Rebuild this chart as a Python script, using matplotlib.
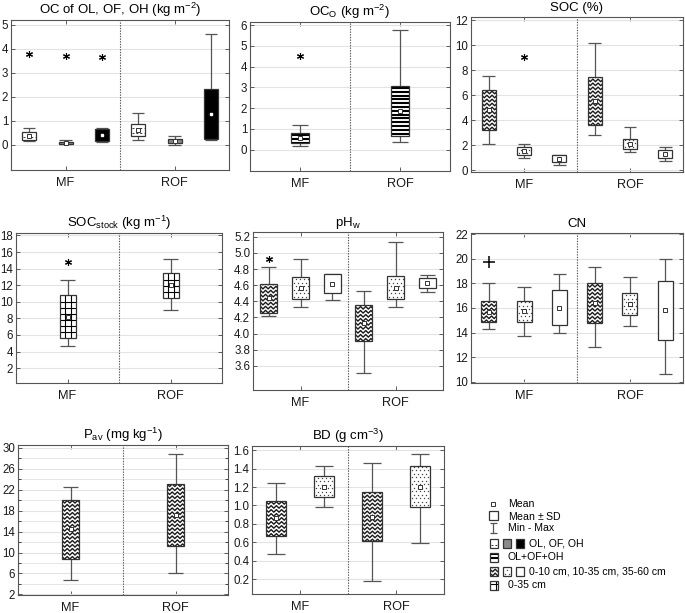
import numpy as np
import matplotlib
matplotlib.use('Agg')
import matplotlib.pyplot as plt
from matplotlib.patches import Rectangle
from matplotlib.collections import LineCollection
from matplotlib.lines import Line2D
from matplotlib.transforms import IdentityTransform

plt.rcParams['font.family'] = ['Liberation Sans', 'DejaVu Sans']
plt.rcParams['mathtext.fontset'] = 'custom'
plt.rcParams['mathtext.rm'] = 'Liberation Sans'
plt.rcParams['mathtext.it'] = 'Liberation Sans:italic'
plt.rcParams['mathtext.bf'] = 'Liberation Sans:bold'

groups = ['MF', 'ROF']

# box order in every panel: MF boxes first, then ROF boxes
# OC of OL, OF, OH
oc_mean = [0.37, 0.08, 0.41, 0.60, 0.16, 1.28]
oc_sd = [0.175, 0.035, 0.265, 0.25, 0.09, 1.05]
oc_min = [0.15, 0.03, 0.12, 0.22, 0.00, 0.22]
oc_max = [0.72, 0.20, 0.72, 1.33, 0.38, 4.62]
oc_out_box = [0, 1, 2]
oc_out_val = [3.78, 3.70, 3.66]

# OC of O horizon (OL+OF+OH)
oco_mean = [0.55, 1.86]
oco_sd = [0.25, 1.20]
oco_min = [0.18, 0.35]
oco_max = [1.17, 5.75]
oco_out_box = [0]
oco_out_val = [4.5]

# SOC (%) for 0-10, 10-35, 35-60 cm
soc_mean = [4.85, 1.54, 0.92, 5.50, 2.12, 1.28]
soc_sd = [1.60, 0.33, 0.28, 1.92, 0.39, 0.32]
soc_min = [2.10, 0.97, 0.45, 2.80, 1.47, 0.77]
soc_max = [7.55, 2.10, 1.25, 10.19, 3.44, 1.87]
soc_out_box = [1]
soc_out_val = [9.07]

# SOC stock 0-35 cm
stock_mean = [8.22, 12.0]
stock_sd = [2.58, 1.5]
stock_min = [4.66, 8.95]
stock_max = [12.6, 15.2]
stock_out_box = [0]
stock_out_val = [14.75]

# pH in water
ph_mean = [4.44, 4.565, 4.62, 4.13, 4.57, 4.625]
ph_sd = [0.18, 0.135, 0.12, 0.22, 0.14, 0.065]
ph_min = [4.22, 4.33, 4.42, 3.51, 4.33, 4.52]
ph_max = [4.82, 4.93, 4.74, 4.53, 5.13, 4.73]
ph_out_box = [0]
ph_out_val = [4.92]

# C/N ratio
cn_mean = [15.71, 15.75, 16.03, 16.43, 16.35, 15.80]
cn_sd = [0.87, 0.85, 1.43, 1.63, 0.90, 2.40]
cn_min = [14.3, 13.75, 13.95, 12.85, 14.55, 10.65]
cn_max = [18.03, 17.7, 18.75, 19.3, 18.5, 20.0]
cn_out_box = [0]
cn_out_val = [19.75]

# available P
pav_mean = [14.4, 17.1]
pav_sd = [5.6, 5.9]
pav_min = [4.8, 6.1]
pav_max = [22.5, 28.7]

# bulk density for 0-10, 10-35 cm
bd_mean = [0.86, 1.205, 0.88, 1.205]
bd_sd = [0.19, 0.115, 0.27, 0.225]
bd_min = [0.47, 0.98, 0.18, 0.59]
bd_max = [1.24, 1.43, 1.46, 1.56]

W, H = 685, 613
fig = plt.figure(figsize=(W / 100, H / 100), dpi=100)

EDGE = '#333333'
WHISK = '#555555'


def add_pattern(ax, patch, kind):
    # fill pattern drawn in screen pixels and clipped to the box
    x0, y0 = patch.get_x(), patch.get_y()
    x1, y1 = x0 + patch.get_width(), y0 + patch.get_height()
    (a, b), (c, d) = ax.transData.transform([(x0, y0), (x1, y1)])
    L, R = min(a, c), max(a, c)
    B, T = min(b, d), max(b, d)
    arts = []
    if kind == 'zig':
        step = 2.6
        xs = np.arange(L - 2 * step, R + 2 * step, step)
        sign = np.where(np.arange(len(xs)) % 2 == 0, 1.3, -1.3)
        segs = []
        y = B - 3
        while y < T + 4:
            segs.append(np.column_stack([xs, y + sign]))
            y += 4.0
        arts.append(LineCollection(segs, colors='#1a1a1a', linewidths=1.0))
    elif kind == 'dot':
        px, py = [], []
        y, row = B + 2, 0
        while y < T:
            xx = np.arange(L + 2 + (row % 2) * 2, R - 0.5, 4.0)
            px += list(xx)
            py += [y] * len(xx)
            y += 3.5
            row += 1
        arts.append(Line2D(px, py, ls='none', marker='s', ms=0.9,
                           mfc='#444444', mec='none'))
    elif kind == 'stripe':
        segs = []
        y = T - 1.9
        while y > B:
            segs.append([(L, y), (R, y)])
            y -= 3.8
        arts.append(LineCollection(segs, colors='black', linewidths=1.5))
    elif kind == 'grid':
        segs = []
        x = L + 5.7
        while x < R - 1:
            segs.append([(x, B), (x, T)])
            x += 5.7
        y = B + 6.0
        while y < T - 1:
            segs.append([(L, y), (R, y)])
            y += 6.0
        arts.append(LineCollection(segs, colors='black', linewidths=0.8))
    elif kind == 'ol':
        segs = []
        y = B + 3
        while y < T - 1:
            segs.append([(L + 1, y), (R - 1, y)])
            y += 5.0
        arts.append(LineCollection(segs, colors='#333333', linewidths=0.7,
                                   linestyles=[(0, (2.0, 2.0))]))
    for art in arts:
        art.set_transform(IdentityTransform())
        art.set_zorder(3.5)
        ax.add_artist(art)
        art.set_clip_path(patch)


def face_of(kind):
    return {'of': '#8a8a8a', 'oh': 'black'}.get(kind, 'white')


def draw_panel(box, title, mean, sd, vmin, vmax, kinds, ylim, yticks,
               box_px, out_box=(), out_val=(), out_marker='*', fmt=None,
               minor=None):
    l, t, r, b = box
    ax = fig.add_axes([l / W, 1 - b / H, (r - l) / W, (b - t) / H])
    ax.set_xlim(0, 2)
    ax.set_ylim(*ylim)
    ax.set_yticks(yticks)
    if fmt:
        ax.set_yticklabels([fmt % v for v in yticks])
    if minor is not None:
        ax.set_yticks(minor, minor=True)
        ax.yaxis.grid(True, which='minor', color='#e6e6e6', lw=0.7)
    ax.set_axisbelow(True)
    ax.yaxis.grid(True, color='#e3e3e3', lw=0.8)
    ax.set_xticks([0.5, 1.5])
    ax.set_xticklabels(groups, fontsize=9)
    ax.tick_params(direction='in', length=3, width=0.6, color='#444444',
                   labelsize=8.3, right=True, top=True, labelcolor='#1a1a1a')
    ax.tick_params(axis='y', which='minor', direction='in', length=2,
                   width=0.5, right=True)
    ax.tick_params(axis='x', pad=5, labelsize=9.2)
    ax.tick_params(axis='y', pad=2)
    for s in ax.spines.values():
        s.set_color('#555555')
        s.set_linewidth(0.8)
    ax.axvline(1, color='#555555', lw=0.8, ls=(0, (1.2, 1.2)), zorder=1)
    ax.set_title(title, fontsize=9.5, pad=4)

    n = len(mean) // 2
    pos = np.array([g + (2 * k + 1) / (2 * n) for g in range(2) for k in range(n)])
    w = box_px / (r - l) * 2
    mean = np.array(mean)
    sd = np.array(sd)
    lo, hi = mean - sd, mean + sd
    ax.vlines(pos, vmin, lo, color=WHISK, lw=0.9, zorder=2)
    ax.vlines(pos, hi, vmax, color=WHISK, lw=0.9, zorder=2)
    ax.hlines(vmin, pos - w * 0.45, pos + w * 0.45, color=WHISK, lw=0.9, zorder=2)
    ax.hlines(vmax, pos - w * 0.45, pos + w * 0.45, color=WHISK, lw=0.9, zorder=2)
    for p, a, h, k in zip(pos, lo, hi, kinds):
        rect = Rectangle((p - w / 2, a), w, h - a, facecolor=face_of(k),
                         edgecolor='none', zorder=3)
        ax.add_patch(rect)
        add_pattern(ax, rect, k)
        ax.add_patch(Rectangle((p - w / 2, a), w, h - a, fill=False,
                               edgecolor=EDGE, lw=0.9, zorder=4))
    for p, m, k in zip(pos, mean, kinds):
        if k == 'oh':
            ax.plot(p, m, 's', ms=2, mfc='white', mec='white', zorder=5)
        else:
            ax.plot(p, m, 's', ms=3.2, mfc='white', mec=EDGE, mew=0.7, zorder=5)
    if len(out_box):
        mk = (6, 2, 0) if out_marker == '*' else '+'
        ax.plot(pos[list(out_box)], out_val, ls='none', marker=mk,
                ms=5 if out_marker == '*' else 8, mew=0.8 if out_marker == '*' else 1.1,
                color='black', zorder=5)
    return ax


depth3 = ['zig', 'dot', 'plain'] * 2

draw_panel((11, 20, 229, 170), r'OC of OL, OF, OH (kg m$^{\mathregular{-2}}$)',
           oc_mean, oc_sd, oc_min, oc_max, ['ol', 'of', 'oh'] * 2,
           (-1.05, 5.2), range(0, 6), 14, oc_out_box, oc_out_val)
draw_panel((250, 22, 450, 171), r'OC$_\mathregular{O}$ (kg m$^{\mathregular{-2}}$)',
           oco_mean, oco_sd, oco_min, oco_max, ['stripe'] * 2,
           (-1.03, 6.15), range(0, 7), 18, oco_out_box, oco_out_val)
draw_panel((471, 17, 683, 172), 'SOC (%)',
           soc_mean, soc_sd, soc_min, soc_max, depth3,
           (-0.15, 12.25), range(0, 13, 2), 14, soc_out_box, soc_out_val)
draw_panel((16, 233, 222, 383),
           r'SOC$_\mathregular{stock}$ (kg m$^{\mathregular{-1}}$)',
           stock_mean, stock_sd, stock_min, stock_max, ['grid'] * 2,
           (0.2, 18.3), range(2, 19, 2), 16, stock_out_box, stock_out_val)
draw_panel((253, 232, 443, 390), r'pH$_\mathregular{w}$',
           ph_mean, ph_sd, ph_min, ph_max, depth3,
           (3.3, 5.26), np.arange(3.6, 5.21, 0.2), 17, ph_out_box, ph_out_val,
           fmt='%.1f')
draw_panel((471, 233, 683, 383), 'CN',
           cn_mean, cn_sd, cn_min, cn_max, depth3,
           (9.9, 22.1), range(10, 23, 2), 15, cn_out_box, cn_out_val,
           out_marker='+')
draw_panel((18, 445, 228, 595), r'P$_\mathregular{av}$ (mg kg$^{\mathregular{-1}}$)',
           pav_mean, pav_sd, pav_min, pav_max, ['zig'] * 2,
           (1.9, 30.5), range(2, 31, 4), 17, minor=range(4, 31, 4))
draw_panel((252, 446, 444, 594), r'BD (g cm$^{\mathregular{-3}}$)',
           bd_mean, bd_sd, bd_min, bd_max, ['zig', 'dot'] * 2,
           (0.04, 1.645), np.arange(0.2, 1.61, 0.2), 20, fmt='%.1f')

# legend drawn in pixel space on an overlay axes
lg = fig.add_axes([0, 0, 1, 1])
lg.set_xlim(0, W)
lg.set_ylim(H, 0)
lg.axis('off')


def icon(x, y, kind, w=8, h=9):
    rect = Rectangle((x, y - h / 2), w, h, facecolor=face_of(kind),
                     edgecolor='none', zorder=3)
    lg.add_patch(rect)
    add_pattern(lg, rect, kind)
    lg.add_patch(Rectangle((x, y - h / 2), w, h, fill=False, edgecolor=EDGE,
                           lw=0.9, zorder=4))


fs = 7.6
lg.plot(493.5, 504, 's', ms=3.2, mfc='white', mec=EDGE, mew=0.7)
lg.text(508, 504, 'Mean', fontsize=fs, va='center')
icon(489, 515.5, 'plain', w=9, h=9)
lg.text(508, 515.5, 'Mean $\\pm$ SD', fontsize=fs, va='center')
lg.vlines(493.5, 523, 533, color=WHISK, lw=0.9)
lg.hlines([523, 533], 490, 497, color=WHISK, lw=0.9)
lg.text(508, 528, 'Min - Max', fontsize=fs, va='center')
icon(490, 543, 'ol')
icon(503, 543, 'of')
icon(516, 543, 'oh')
lg.text(529, 543, 'OL, OF, OH', fontsize=fs, va='center')
icon(490, 557, 'stripe')
lg.text(508, 557, 'OL+OF+OH', fontsize=fs, va='center')
icon(490, 571, 'zig')
icon(503, 571, 'dot')
icon(516, 571, 'plain')
lg.text(529, 571, '0-10 cm, 10-35 cm, 35-60 cm', fontsize=fs, va='center')
icon(490, 585, 'grid')
lg.text(508, 585, '0-35 cm', fontsize=fs, va='center')

fig.savefig('out.png', dpi=100)
